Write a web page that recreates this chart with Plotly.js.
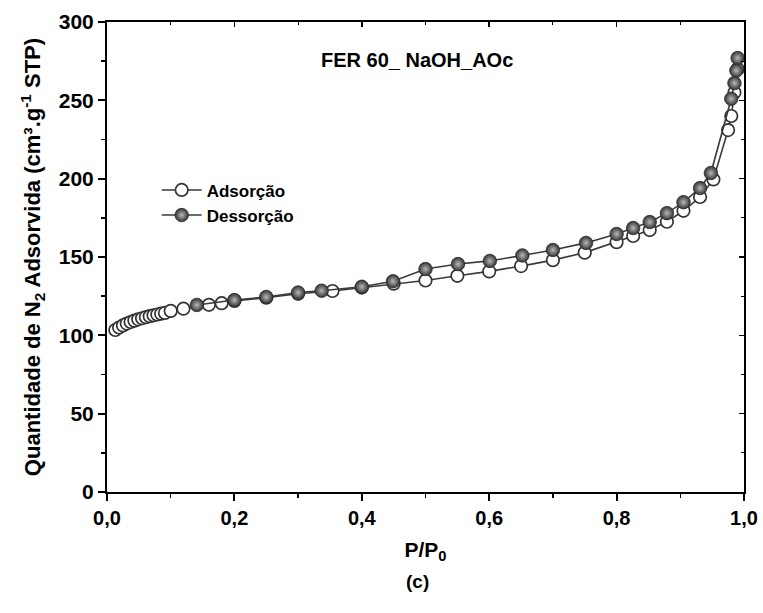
<!DOCTYPE html>
<html>
<head>
<meta charset="utf-8">
<script src="https://cdn.plot.ly/plotly-3.0.1.min.js"></script>
<style>html,body{margin:0;padding:0;background:#fff;}#chart{width:763px;height:613px;}</style>
</head>
<body>
<div id="chart"></div>
<script>
// Adsorption branch (open circles)
const adsP = [0.013, 0.019, 0.025, 0.031, 0.037, 0.043, 0.049, 0.055, 0.061, 0.067, 0.073, 0.079, 0.085, 0.091,
  0.10, 0.12, 0.16, 0.18, 0.20, 0.25, 0.30, 0.354, 0.40, 0.45, 0.50, 0.55, 0.60, 0.65, 0.70, 0.75, 0.80, 0.826, 0.852,
  0.879, 0.905, 0.931, 0.952, 0.975, 0.98, 0.985, 0.99];
const adsV = [103.4, 105.0, 106.3, 107.5, 108.5, 109.4, 110.2, 110.9, 111.6, 112.2, 112.8, 113.3, 113.8, 114.3,
  115.6, 117.0, 119.5, 120.5, 122.0, 124.0, 126.5, 128.3, 130.5, 133.0, 135.0, 138.0, 140.8, 144.2, 148.0, 152.8, 159.5, 163.4, 167.2,
  172.5, 179.5, 188.3, 199.5, 231.0, 240.0, 255.0, 270.0];
// Desorption branch (filled circles)
const desP = [0.99, 0.988, 0.985, 0.98, 0.948, 0.931, 0.905, 0.879, 0.852, 0.826, 0.80, 0.752, 0.70, 0.652, 0.601,
  0.551, 0.50, 0.449, 0.40, 0.337, 0.30, 0.25, 0.20, 0.141];
const desV = [277.0, 269.0, 261.0, 251.0, 203.6, 194.0, 185.0, 178.0, 172.3, 168.5, 164.7, 159.0, 154.5, 151.0, 147.5,
  145.5, 142.3, 134.5, 131.0, 128.5, 127.3, 124.5, 122.5, 119.4];
const xTickVals = [0, 0.2, 0.4, 0.6, 0.8, 1.0];
const xTickText = ['0,0', '0,2', '0,4', '0,6', '0,8', '1,0'];
const yTickVals = [0, 50, 100, 150, 200, 250, 300];
const yTickText = ['0', '50', '100', '150', '200', '250', '300'];

const arial = '"Liberation Sans", Arial, sans-serif';
const bold = s => '<b>' + s + '</b>';

const traces = [
  {
    x: adsP, y: adsV, type: 'scatter', mode: 'lines+markers', name: bold('Adsorção'),
    line: {color: '#3a3a3a', width: 1.6},
    marker: {symbol: 'circle', size: 12.5, color: '#ffffff', line: {color: '#333333', width: 1.7}}
  },
  {
    x: desP, y: desV, type: 'scatter', mode: 'lines+markers', name: bold('Dessorção'),
    line: {color: '#3a3a3a', width: 1.6},
    marker: {symbol: 'circle', size: 13.5, color: '#333333', gradient: {type: 'radial', color: '#b8b8b8'},
      line: {color: '#2a2a2a', width: 0.8}}
  }
];

const axisCommon = {
  showline: true, linecolor: '#000', linewidth: 2, showgrid: false, zeroline: false,
  ticks: 'outside', tickwidth: 2, tickcolor: '#000', ticklen: 7
};

const layout = {
  width: 763, height: 613,
  margin: {l: 107, r: 19, t: 22, b: 121},
  paper_bgcolor: '#fff', plot_bgcolor: '#fff',
  showlegend: true,
  legend: {x: 0.078, y: 0.68, xanchor: 'left', yanchor: 'top', bgcolor: 'rgba(0,0,0,0)',
    font: {family: arial, size: 17, color: '#000'}, tracegroupgap: 0, itemwidth: 40},
  xaxis: Object.assign({}, axisCommon, {
    range: [0, 1], tickmode: 'array', tickvals: xTickVals, ticktext: xTickText.map(bold),
    tickfont: {family: arial, size: 20, color: '#000'},
    minor: {dtick: 0.1, ticklen: 4, tickwidth: 1.5, tickcolor: '#000', ticks: 'outside'},
    title: {text: '<b>P/P<sub>0</sub></b>', font: {family: arial, size: 21, color: '#000'}, standoff: 14}
  }),
  yaxis: Object.assign({}, axisCommon, {
    range: [0, 300], tickmode: 'array', tickvals: yTickVals, ticktext: yTickText.map(bold),
    tickfont: {family: arial, size: 21, color: '#000'},
    minor: {dtick: 25, ticklen: 4, tickwidth: 1.5, tickcolor: '#000', ticks: 'outside'},
    title: {text: '<b>Quantidade de N<sub>2</sub> Adsorvida (cm³.g<sup>-1</sup> STP)</b>',
      font: {family: arial, size: 22, color: '#000'}, standoff: 12}
  }),
  xaxis2: {overlaying: 'x', side: 'top', range: [0, 1], showline: true, linecolor: '#000', linewidth: 2,
    showgrid: false, zeroline: false, ticks: 'inside', tickvals: xTickVals, ticklen: 5, tickwidth: 1.5, tickcolor: '#000',
    showticklabels: false, minor: {dtick: 0.1, ticklen: 3, tickwidth: 1, ticks: 'inside'}},
  yaxis2: {overlaying: 'y', side: 'right', range: [0, 300], showline: true, linecolor: '#000', linewidth: 2,
    showgrid: false, zeroline: false, ticks: 'inside', tickvals: yTickVals, ticklen: 5, tickwidth: 1.5, tickcolor: '#000',
    showticklabels: false, minor: {dtick: 25, ticklen: 3, tickwidth: 1, ticks: 'inside'}},
  annotations: [
    {text: '<b>FER 60_ NaOH_AOc</b>', xref: 'paper', yref: 'paper', x: 0.486, y: 0.92, xanchor: 'center', yanchor: 'middle',
      showarrow: false, font: {family: arial, size: 20, color: '#000'}},
    {text: '<b>(c)</b>', xref: 'paper', yref: 'paper', x: 0.488, y: -0.19, xanchor: 'center', yanchor: 'middle',
      showarrow: false, font: {family: arial, size: 19, color: '#000'}}
  ]
};

// invisible trace keeps the mirrored (top/right) axes on the same scale
traces.push({x: [0], y: [0], xaxis: 'x2', yaxis: 'y2', mode: 'markers', marker: {opacity: 0}, showlegend: false, hoverinfo: 'skip'});

Plotly.newPlot('chart', traces, layout, {displayModeBar: false, staticPlot: true});
</script>
</body>
</html>
